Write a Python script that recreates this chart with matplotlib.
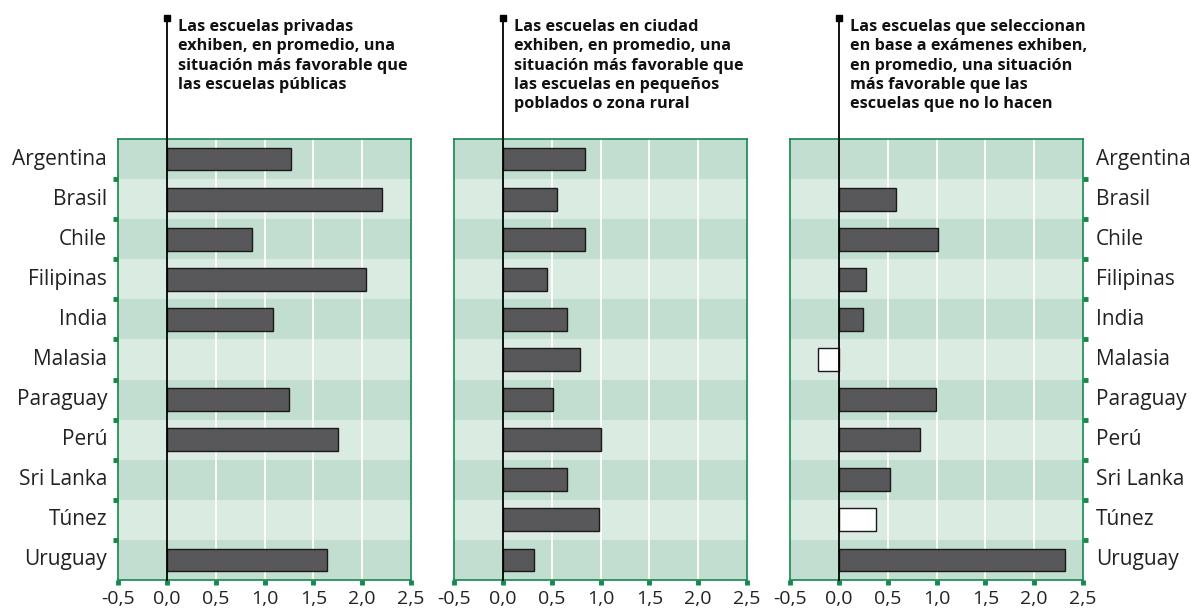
import matplotlib
matplotlib.use("Agg")
import matplotlib.pyplot as plt
import matplotlib.transforms as mtransforms

countries = ["Argentina", "Brasil", "Chile", "Filipinas", "India", "Malasia",
             "Paraguay", "Perú", "Sri Lanka", "Túnez", "Uruguay"]

# None = no bar
privadas = [1.27, 2.20, 0.87, 2.04, 1.09, None, 1.25, 1.75, None, None, 1.64]
ciudad = [0.84, 0.55, 0.84, 0.45, 0.66, 0.79, 0.51, 1.01, 0.66, 0.98, 0.32]
seleccion = [None, 0.59, 1.02, 0.28, 0.25, -0.21, 0.99, 0.83, 0.52, 0.38, 2.32]
# significance (False = white bar)
sel_signif = [True, True, True, True, True, False, True, True, True, False, True]

titles = [
    "Las escuelas privadas\nexhiben, en promedio, una\nsituación más favorable que\nlas escuelas públicas",
    "Las escuelas en ciudad\nexhiben, en promedio, una\nsituación más favorable que\nlas escuelas en pequeños\npoblados o zona rural",
    "Las escuelas que seleccionan\nen base a exámenes exhiben,\nen promedio, una situación\nmás favorable que las\nescuelas que no lo hacen",
]

xticks = [-0.5, 0.0, 0.5, 1.0, 1.5, 2.0, 2.5]
xticklabels = ["-0,5", "0,0", "0,5", "1,0", "1,5", "2,0", "2,5"]

W, H = 1191, 611
fig = plt.figure(figsize=(W / 100, H / 100), dpi=100)
plt.rcParams['font.family'] = ['Open Sans', 'DejaVu Sans']

GREEN = "#16884c"
DARK = "#c1ded0"
LIGHT = "#daebe2"
BAR = "#58585a"

lefts = [118, 454, 790]
ax_w = 293
ax_top, ax_bot = 139, 580

series = [privadas, ciudad, seleccion]
signifs = [[True] * 11, [True] * 11, sel_signif]

for k in range(3):
    ax = fig.add_axes([lefts[k] / W, 1 - ax_bot / H, ax_w / W, (ax_bot - ax_top) / H])
    ax.set_xlim(-0.5, 2.5)
    ax.set_ylim(10.5, -0.5)
    for i in range(len(countries)):
        ax.axhspan(i - 0.5, i + 0.5, color=DARK if i % 2 == 0 else LIGHT, lw=0, zorder=0)
    for g in [0.5, 1.0, 1.5, 2.0]:
        ax.axvline(g, color="white", lw=1.3, zorder=1)
    for i, v in enumerate(series[k]):
        if v is None:
            continue
        fc = BAR if signifs[k][i] else "white"
        ax.barh(i, v, height=0.57, color=fc, edgecolor="#1a1a1a", lw=1.0, zorder=3)
    for s in ax.spines.values():
        s.set_color(GREEN)
        s.set_linewidth(1.2)
    ax.set_xticks(xticks)
    ax.set_xticklabels(xticklabels, fontsize=14, color="#222222")
    ax.tick_params(axis="x", length=3.5, width=3.5, color=GREEN, pad=4)
    ax.set_yticks([i + 0.5 for i in range(10)], minor=False)
    ax.set_yticklabels([])
    if k == 0:
        ax.tick_params(axis="y", length=3.5, width=3.5, color=GREEN, left=True, right=False)
    elif k == 2:
        ax.tick_params(axis="y", length=3.5, width=3.5, color=GREEN, left=False, right=True)
    else:
        ax.tick_params(axis="y", length=0, left=False, right=False)
    # country labels
    if k == 0:
        for i, c in enumerate(countries):
            ax.text(-0.612, i, c, ha="right", va="center", fontsize=15, color="#222222")
    if k == 2:
        for i, c in enumerate(countries):
            ax.text(2.633, i, c, ha="left", va="center", fontsize=15, color="#222222")
    # zero line extending to top
    trans = mtransforms.blended_transform_factory(ax.transData, fig.transFigure)
    ax.plot([0, 0], [1 - ax_bot / H, 1 - 17.5 / H], transform=trans, color="black",
            lw=1.3, clip_on=False, zorder=5)
    ax.plot([0], [1 - 17.5 / H], transform=trans, marker="s", ms=4.5, color="black",
            clip_on=False, zorder=5)
    ax.text(0.11, 1 - 19 / H, titles[k], transform=trans, ha="left", va="top",
            fontsize=11.7, fontweight="bold", color="#111111", linespacing=1.28)

fig.savefig("out.png", dpi=100)
